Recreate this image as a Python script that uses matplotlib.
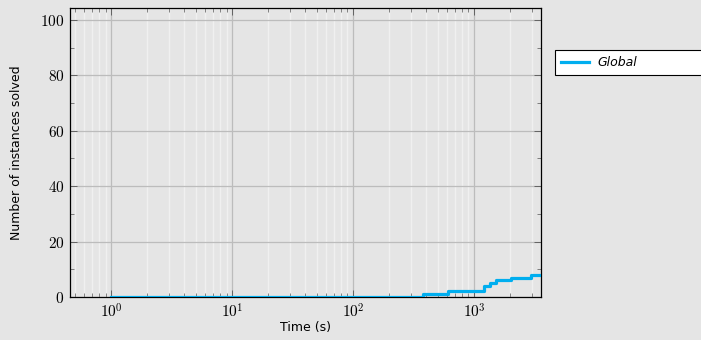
import matplotlib
matplotlib.use("Agg")
import matplotlib.pyplot as plt
from matplotlib.ticker import LogLocator, MultipleLocator, FixedLocator, NullFormatter

# solved instances over time (step curve)
times = [1, 377, 613, 1202, 1348, 1520, 2023, 2958, 3600]
solved = [0, 1, 2, 4, 5, 6, 7, 8, 8]
series_name = "Global"
y_ticks = [0, 20, 40, 60, 80, 100]
x_decades = [1, 10, 100, 1000]

BG = "#e5e5e5"
plt.rcParams["mathtext.fontset"] = "cm"

fig = plt.figure(figsize=(7.01, 3.40), dpi=100, facecolor=BG)
ax = fig.add_axes([0.0999, 0.1265, 0.6719, 0.85])
ax.set_facecolor(BG)

ax.step(times, solved, where="post", color="#00aeef", lw=2.3, label=series_name,
        clip_on=True, zorder=3)

ax.set_xscale("log")
ax.set_xlim(0.458, 3580)
ax.set_ylim(0, 104.3)

ax.xaxis.set_major_locator(FixedLocator(x_decades))
ax.set_xticklabels([f"$10^{{{i}}}$" for i in range(len(x_decades))])
ax.xaxis.set_minor_locator(LogLocator(base=10, subs=range(2, 10), numticks=20))
ax.xaxis.set_minor_formatter(NullFormatter())
ax.yaxis.set_major_locator(FixedLocator(y_ticks))
ax.set_yticklabels([f"${v}$" for v in y_ticks])
ax.yaxis.set_minor_locator(MultipleLocator(10))

ax.grid(True, which="major", color="#bcbcbc", lw=0.9, zorder=0)
ax.grid(True, which="minor", axis="x", color="#f0f0f0", lw=1.0, zorder=0)
ax.set_axisbelow(True)

ax.tick_params(which="both", direction="in", top=True, right=True, color="#555555")
ax.tick_params(which="major", length=5, width=0.6, labelsize=11, pad=4)
ax.tick_params(which="minor", length=3, width=0.5)
for s in ax.spines.values():
    s.set_linewidth(0.9)
    s.set_color("black")

ax.set_xlabel("Time (s)", fontsize=9, family="DejaVu Sans", labelpad=0)
ax.set_ylabel("Number of instances solved", fontsize=9, family="DejaVu Sans", labelpad=12)

# legend box sits right of the axes and runs off the figure edge
leg = ax.legend(loc="upper left", bbox_to_anchor=(1.03, 0.772, 0.36, 0.083), mode="expand",
                frameon=True, fancybox=False, edgecolor="black", facecolor="white",
                framealpha=1, handlelength=2.2, handletextpad=0.7, borderpad=0.5,
                borderaxespad=0, prop={"style": "italic", "size": 9})
leg.get_frame().set_linewidth(0.8)

fig.savefig("out.png", dpi=100, facecolor=BG)
